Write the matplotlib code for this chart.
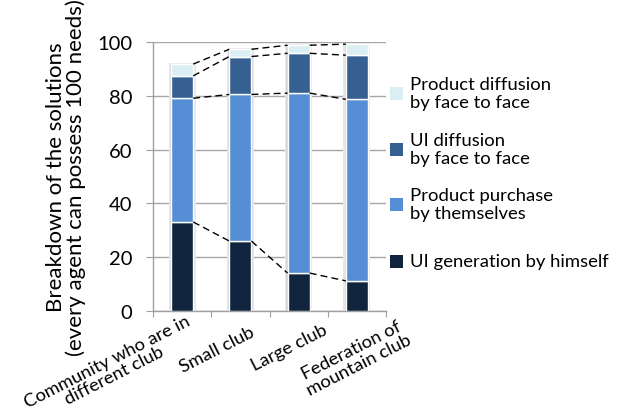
import numpy as np
import matplotlib.pyplot as plt
import matplotlib.transforms as mtransforms
from matplotlib.patches import Rectangle

plt.rcParams['font.family'] = ['Lato', 'DejaVu Sans']

# donnees
categories = ["Community who are in\ndifferent club", "Small club",
              "Large club", "Federation of\nmountain club"]
series_names = ["UI generation by himself", "Product purchase\nby themselves",
                "UI diffusion\nby face to face", "Product diffusion\nby face to face"]
ui_generation = [33.1, 26.0, 14.1, 11.2]
product_purchase = [46.0, 54.5, 66.9, 67.5]
ui_diffusion = [8.3, 14.1, 14.8, 16.4]
product_diffusion = [4.4, 2.7, 3.0, 4.1]
colors = ["#10243e", "#558ed5", "#366092", "#dbeef4"]

series = [ui_generation, product_purchase, ui_diffusion, product_diffusion]
n = len(categories)
x = np.arange(n)
w = 0.38

fig = plt.figure(figsize=(6.19, 4.10), dpi=100)
ax = fig.add_axes([153/619, 1 - 312/410, (386 - 153)/619, (312 - 43)/410])

# ombre legere derriere les barres
totals = np.sum(series, axis=0)
ax.bar(x, totals + 0.6, w + 0.08, bottom=-0.3, color="#e8e8e8", zorder=1)
ax.bar(x, totals + 0.3, w + 0.04, bottom=-0.15, color="#d6d6d6", zorder=1)

bottom = np.zeros(n)
tops = []
for vals, c in zip(series, colors):
    ax.bar(x, vals, w, bottom=bottom, color=c, edgecolor="white",
           linewidth=1.0, zorder=3)
    bottom = bottom + np.array(vals)
    tops.append(bottom.copy())

# lignes de serie en pointilles entre les barres
for t in tops:
    for i in range(n - 1):
        ax.plot([x[i] + w/2, x[i+1] - w/2], [t[i], t[i+1]], color="black",
                linestyle=(0, (5, 3)), linewidth=1.0, zorder=4)

ax.set_xlim(-0.5, n - 0.5)
ax.set_ylim(0, 100)
ax.set_yticks(np.arange(0, 101, 20))
ax.yaxis.grid(True, color="#a6a6a6", linewidth=1.0, zorder=0)
ax.set_axisbelow(True)
for s in ["top", "right"]:
    ax.spines[s].set_visible(False)
for s in ["left", "bottom"]:
    ax.spines[s].set_color("#a0a0a0")
    ax.spines[s].set_linewidth(1.0)

ax.tick_params(axis="y", labelsize=14.5, length=5, color="#a0a0a0", pad=10)
ax.set_xticks(np.arange(-0.5, n, 1.0), minor=False)
ax.set_xticklabels([])
ax.tick_params(axis="x", length=4, color="#a0a0a0")
ax.set_xticks(x, minor=True)
ax.set_xticklabels(categories, minor=True, rotation=27, ha="right",
                   va="top", rotation_mode="anchor", fontsize=13.2,
                   multialignment="center", linespacing=1.0)
ax.tick_params(axis="x", which="minor", length=0, pad=0)
# decalage de chaque etiquette (pixels)
dx = [3, 9, 24, 42]
dy = [1, 12, 10, 6]
for lab, ox, oy in zip(ax.get_xticklabels(minor=True), dx, dy):
    off = mtransforms.ScaledTranslation(ox/100, -oy/100, fig.dpi_scale_trans)
    lab.set_transform(lab.get_transform() + off)

ax.set_ylabel("Breakdown of the solutions\n(every agent can possess 100 needs)",
              fontsize=16, linespacing=0.95)
ax.yaxis.set_label_coords((86 - 153)/233, 0.5)

# legende
legend_y = [262, 205, 150, 94]
for name, c, yy in zip(series_names, colors, legend_y):
    fig.add_artist(Rectangle((390/619, 1 - (yy + 6.5)/410), 13/619, 13/410,
                             transform=fig.transFigure, facecolor=c,
                             edgecolor="none"))
    fig.text(410/619, 1 - yy/410, name, fontsize=13.3, va="center",
             ha="left", linespacing=1.1)

fig.savefig("out.png", dpi=100)
